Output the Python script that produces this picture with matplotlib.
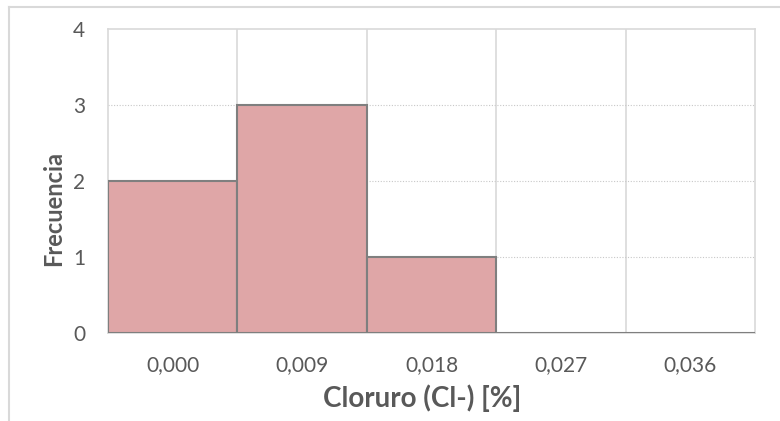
import matplotlib
matplotlib.use("Agg")
import matplotlib.pyplot as plt
from matplotlib.lines import Line2D

# histogram data
categories = ['0,000', '0,009', '0,018', '0,027', '0,036']
frequencies = [2, 3, 1, 0, 0]
y_ticks = [0, 1, 2, 3, 4]

plt.rcParams['font.family'] = ['Lato', 'DejaVu Sans']
text_col = '#595959'
grid_col = '#d9d9d9'

fig = plt.figure(figsize=(7.8, 4.21), dpi=100)
ax = fig.add_axes([108/780, 88/421, 647/780, 304/421])

x = list(range(len(categories)))
ax.bar(x, frequencies, width=1.0, color='#dfa6a7',
       edgecolor='#7f7f7f', linewidth=1.5, zorder=3)

ax.set_xlim(-0.5, len(categories) - 0.5)
ax.set_ylim(0, 4)
ax.set_xticks(x)
ax.set_xticklabels(categories)
ax.set_yticks(y_ticks)

# vertical grid at category boundaries, dotted horizontal grid
for b in range(1, len(categories)):
    ax.axvline(b - 0.5, color=grid_col, linewidth=1.2, zorder=1)
for v in y_ticks[1:-1]:
    ax.axhline(v, color='#c8c8c8', linewidth=0.8, linestyle=(0, (1, 1.5)), zorder=1)

for s in ax.spines.values():
    s.set_color(grid_col)
    s.set_linewidth(1.2)

ax.tick_params(length=0, labelsize=15, colors=text_col)
ax.tick_params(axis='x', pad=16)
ax.tick_params(axis='y', pad=16.5)

ax.set_xlabel('Cloruro (Cl-) [%]', fontsize=20, fontweight='bold',
              color=text_col, va='center')
ax.xaxis.set_label_coords(0.486, -0.214)
ax.set_ylabel('Frecuencia', fontsize=17, fontweight='bold',
              color=text_col, va='center')
ax.yaxis.set_label_coords(-0.0835, 0.411)

# outer chart border (partially cropped in the original)
fig.add_artist(Line2D([9/780, 1], [1 - 7/421, 1 - 7/421], color=grid_col, linewidth=1.5))
fig.add_artist(Line2D([9/780, 9/780], [0, 1 - 7/421], color=grid_col, linewidth=1.5))

fig.savefig('out.png', dpi=100)
